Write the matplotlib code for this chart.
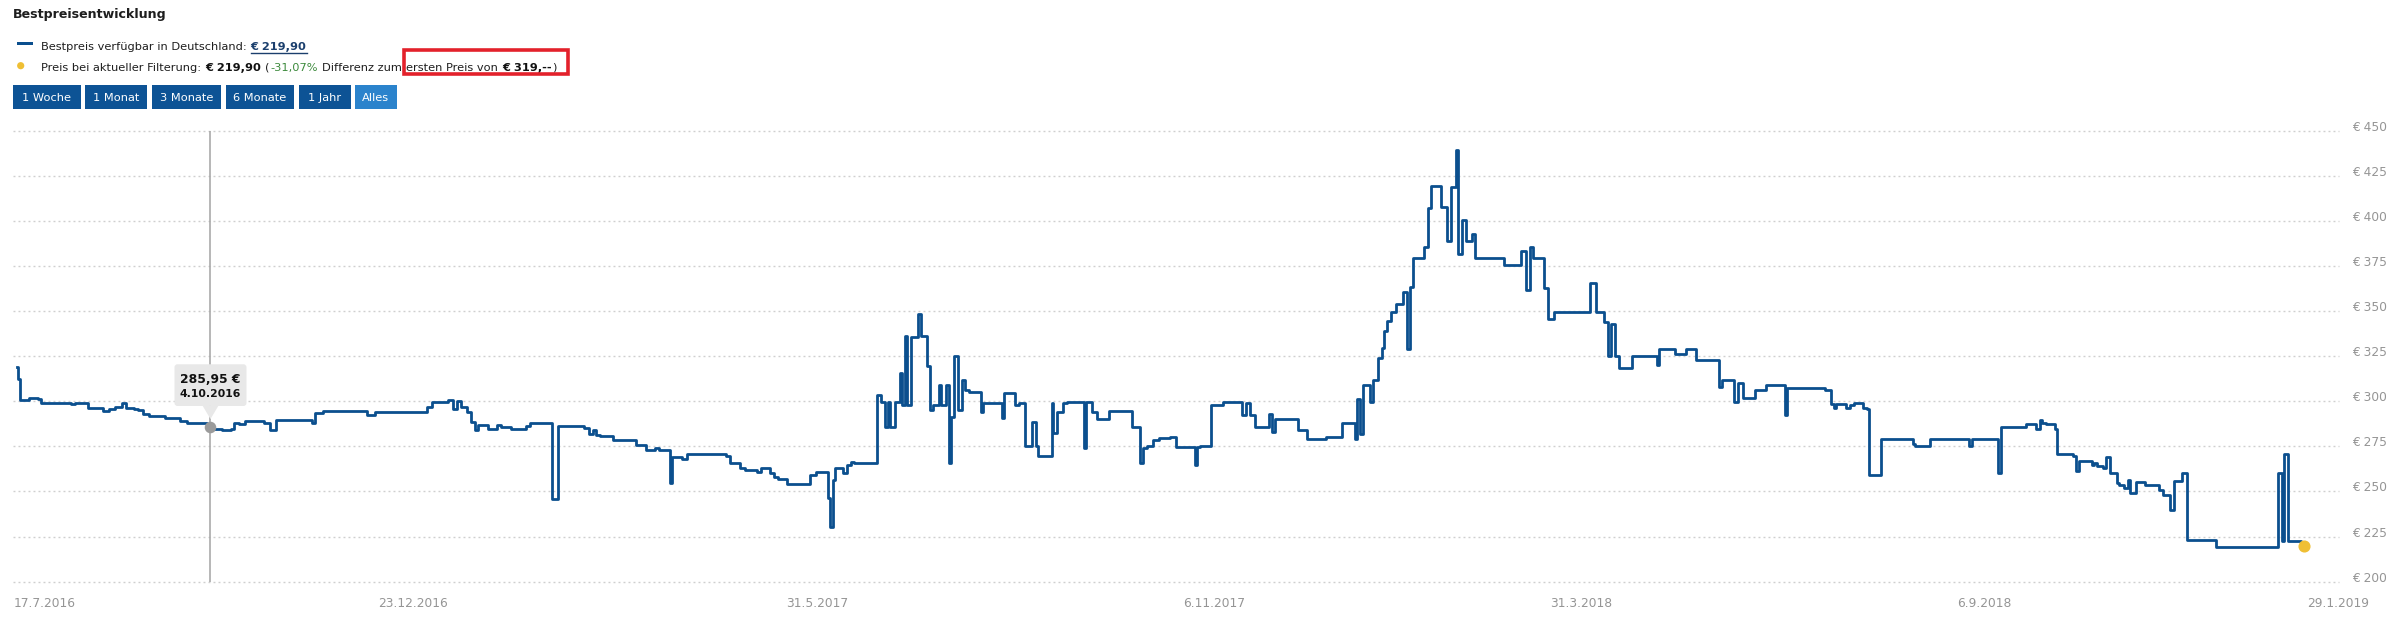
import matplotlib
matplotlib.use("Agg")
import matplotlib.pyplot as plt
from matplotlib.patches import Rectangle, Polygon, FancyBboxPatch, Circle
from matplotlib.transforms import IdentityTransform

W, H, DPI = 2402, 632, 100

# Bestpreisverlauf: Position auf der (ordinalen) Zeitachse und Preis in Euro
positions = [
    3.8, 4.6, 6.9, 15.3, 24.9, 27.5, 57.4, 61.2, 74.6, 89.9, 95.7, 101.4, 109.1, 112.9,
    120.5, 124.4, 130.1, 135.9, 151.2, 166.5, 174.1, 193.3, 197.1, 200.9, 208.6, 218.1,
    220.8, 225.8, 231.5, 250.7, 256.4, 262.9, 298.5, 301.2, 310.0, 354.0, 361.6, 413.3,
    419.0, 434.4, 440.1, 443.9, 447.8, 453.5, 457.3, 461.2, 465.0, 474.5, 484.1, 488.0,
    497.5, 512.8, 516.6, 538.8, 544.6, 570.2, 576.0, 579.8, 582.8, 586.6, 600.0, 623.0,
    632.5, 642.1, 645.9, 656.6, 658.5, 668.9, 673.9, 712.9, 716.7, 726.3, 732.0, 743.5,
    747.3, 756.9, 760.7, 764.6, 774.1, 796.3, 802.8, 814.3, 816.2, 819.3, 822.0, 829.6,
    833.4, 837.3, 841.1, 864.1, 867.9, 871.7, 874.4, 876.7, 881.3, 887.0, 888.9, 891.6,
    893.9, 897.4, 904.2, 908.1, 913.8, 916.5, 919.5, 925.3, 927.2, 933.0, 935.6, 937.9,
    940.6, 944.4, 948.3, 952.1, 955.9, 967.4, 969.3, 988.4, 990.4, 1001.8, 1005.7, 1011.4,
    1019.1, 1022.9, 1024.8, 1038.2, 1040.1, 1043.9, 1049.7, 1053.5, 1070.7, 1072.6, 1078.4,
    1084.1, 1095.6, 1118.6, 1126.2, 1130.0, 1133.9, 1139.6, 1145.4, 1156.8, 1162.6, 1181.7,
    1183.6, 1186.6, 1198.1, 1209.6, 1228.7, 1232.5, 1236.4, 1242.1, 1255.5, 1258.5, 1261.2,
    1284.2, 1293.8, 1312.9, 1328.2, 1341.6, 1343.5, 1346.6, 1349.2, 1356.9, 1359.6, 1364.6,
    1368.4, 1371.1, 1374.1, 1378.0, 1382.5, 1389.4, 1393.3, 1397.1, 1400.1, 1410.5, 1414.3,
    1418.1, 1427.7, 1433.4, 1437.3, 1442.2, 1444.9, 1448.7, 1452.6, 1459.1, 1462.1, 1490.9,
    1508.1, 1512.7, 1516.5, 1519.6, 1531.0, 1534.9, 1540.6, 1576.2, 1582.7, 1590.3, 1594.2,
    1598.0, 1601.8, 1605.7, 1619.1, 1643.9, 1645.8, 1661.2, 1672.6, 1682.2, 1705.2, 1709.0,
    1720.5, 1724.3, 1730.0, 1741.5, 1753.0, 1772.1, 1774.0, 1811.6, 1817.3, 1820.4, 1823.1,
    1832.7, 1836.5, 1840.3, 1849.9, 1853.8, 1855.7, 1867.2, 1899.8, 1901.8, 1917.1, 1955.5,
    1958.2, 1985.1, 1988.1, 2013.1, 2022.7, 2026.5, 2028.4, 2032.3, 2041.9, 2043.8, 2059.2,
    2063.0, 2066.1, 2078.3, 2080.3, 2084.1, 2089.9, 2092.9, 2096.8, 2103.3, 2106.0, 2111.0,
    2114.8, 2116.7, 2122.5, 2132.1, 2145.5, 2149.4, 2157.0, 2160.9, 2168.6, 2173.5, 2203.1,
    2264.5, 2268.4, 2271.1, 2274.9, 2287.6, 2290.6,
]
prices = [
    319.1, 312.1, 300.6, 301.7, 301.0, 299.2, 298.4, 299.2, 296.0, 294.7, 295.8, 296.9, 299.2, 296.0,
    295.5, 295.1, 292.9, 291.8, 290.5, 289.2, 287.7, 286.8, 285.95, 284.4, 284.0, 284.4,
    288.1, 287.3, 288.8, 288.1, 284.0, 289.6, 288.1, 293.2, 294.7, 292.1, 294.0, 296.9,
    299.5, 300.6, 295.8, 300.2, 296.9, 294.2, 288.6, 284.0, 286.8, 284.4, 286.8, 285.5,
    284.4, 286.4, 287.7, 245.6, 286.2, 284.9, 281.8, 284.0, 281.2, 280.9, 278.5, 275.7,
    272.9, 273.9, 272.9, 254.5, 269.2, 267.9, 270.7, 269.6, 265.5, 262.8, 261.9, 260.9,
    262.8, 260.0, 257.8, 256.7, 254.1, 259.1, 260.9, 246.2, 230.5, 256.3, 262.8, 260.0,
    264.6, 266.5, 265.9, 303.5, 299.7, 285.5, 299.3, 285.9, 299.7, 315.5, 298.0, 336.0,
    298.0, 335.7, 348.1, 336.0, 319.4, 295.1, 298.0, 309.1, 298.0, 309.1, 265.5, 291.4,
    324.8, 295.1, 311.7, 306.2, 305.2, 294.2, 298.8, 290.5, 304.7, 297.9, 299.2, 275.1,
    288.6, 275.1, 269.6, 298.8, 282.2, 294.2, 298.8, 299.7, 273.9, 299.7, 294.2,
    289.9, 294.7, 285.9, 265.5, 273.9, 275.1, 278.5, 279.4, 280.3, 274.8, 264.6,
    274.8, 275.2, 297.7, 299.6, 292.1, 299.1, 292.1, 285.5, 293.0, 282.7, 290.2,
    284.0, 278.9, 280.3, 287.8, 278.9, 301.5, 281.8, 309.0, 299.6, 311.8, 324.1,
    329.7, 339.1, 344.7, 349.4, 353.6, 360.7, 328.8, 363.5, 379.5, 385.2, 406.8,
    419.4, 407.7, 388.9, 418.6, 439.3, 381.4, 400.2, 388.9, 392.7, 379.5, 375.4,
    383.3, 361.7, 385.2, 379.5, 362.6, 345.7, 349.4, 365.4, 349.4, 343.8, 325.0,
    342.9, 325.0, 318.4, 325.0, 320.3, 329.1, 325.9, 329.1, 323.1, 308.1, 311.8,
    299.6, 310.0, 301.9, 306.2, 309.0, 292.1, 307.1, 306.2, 298.7, 296.4, 298.7,
    296.4, 298.0, 299.2, 296.4, 295.9, 259.2, 279.3, 276.1, 275.2, 279.3, 275.2,
    279.3, 260.2, 285.5, 287.4, 284.6, 289.7, 288.0, 287.4, 284.6, 270.5, 269.5,
    261.5, 267.1, 264.8, 265.8, 263.9, 263.0, 269.0, 260.2, 254.5, 253.6, 251.7,
    256.4, 248.9, 255.5, 253.6, 250.8, 247.9, 240.0, 255.8, 260.2, 222.9, 219.2,
    260.2, 222.6, 270.5, 222.6, 219.9, 219.9,
]

x_tick_pos = [0, 399.6, 803.4, 1201.0, 1567.8, 1971.2, 2325.3]
x_tick_labels = ['17.7.2016', '23.12.2016', '31.5.2017', '6.11.2017', '31.3.2018', '6.9.2018', '29.1.2019']
y_levels = [200, 225, 250, 275, 300, 325, 350, 375, 400, 425, 450]
y_tick_labels = ['€ 200', '€ 225', '€ 250', '€ 275', '€ 300', '€ 325', '€ 350', '€ 375', '€ 400', '€ 425', '€ 450']

tooltip_pos = 197.1
tooltip_price = 285.95
tooltip_value = '285,95 €'
tooltip_date = '4.10.2016'

buttons = ['1 Woche', '1 Monat', '3 Monate', '6 Monate', '1 Jahr', 'Alles']
selected_button = 'Alles'

best_price = '€ 219,90'
first_price = '€ 319,--'
difference = '-31,07%'

# Farben
LINE = '#0b4f8e'
GRID = '#cfcfcf'
AXIS_TXT = '#959595'
TEXT = '#1e1e1e'

fig = plt.figure(figsize=(W / DPI, H / DPI), dpi=DPI)
fig.patch.set_facecolor('white')

# Plotbereich (in Bildpixeln, Ursprung oben links)
left, right, top, bottom = 13.4, 2338.6, 130.5, 581.7
ax = fig.add_axes([left / W, 1 - bottom / H, (right - left) / W, (bottom - top) / H])
ax.set_xlim(0, 2325.2)
ax.set_ylim(200, 450)
for s in ax.spines.values():
    s.set_visible(False)

ax.set_yticks(y_levels, y_tick_labels)
ax.yaxis.tick_right()
ax.set_xticks(x_tick_pos, x_tick_labels)
ax.grid(axis='y', color=GRID, linestyle=(0, (1.4, 2.2)), linewidth=1.0)
for gl in ax.get_ygridlines():
    gl.set_clip_on(False)
ax.tick_params(axis='x', length=0, pad=10.8, labelsize=8.85, labelcolor=AXIS_TXT)
ax.tick_params(axis='y', length=0, pad=9.4, labelsize=8.8, labelcolor=AXIS_TXT)
for lab in ax.get_yticklabels():
    lab.set_va('baseline')
ax.get_xticklabels()[0].set_ha('left')

# Fadenkreuz, Linie, Punkte
ax.axvline(tooltip_pos, color='#a3a3a3', lw=1.1, zorder=2)
ax.plot(positions, prices, drawstyle='steps-post', color=LINE, lw=2.0,
        solid_joinstyle='round', zorder=3)
ax.plot([tooltip_pos], [tooltip_price], 'o', ms=7.3, color='#9b9b9b', zorder=4)
ax.plot([positions[-1]], [prices[-1]], 'o', ms=7.7, color='#efbf34', zorder=5, clip_on=False)

# Tooltip
px, py = ax.transData.transform((tooltip_pos, tooltip_price))
ident = IdentityTransform()
fig.add_artist(FancyBboxPatch((px - 36, py + 20.6), 72, 41.7,
                              boxstyle='round,pad=0,rounding_size=3',
                              transform=ident, facecolor='#e8e8e8', edgecolor='none', zorder=6))
fig.add_artist(Polygon([(px - 8, py + 21), (px + 8, py + 21), (px, py + 7.5)],
                       closed=True, transform=ident, facecolor='#e8e8e8', edgecolor='none', zorder=6))
fig.text(px, py + 46.6, tooltip_value, transform=ident, ha='center', va='center',
         fontsize=8.9, fontweight='bold', color='#111111', zorder=7)
fig.text(px, py + 33.0, tooltip_date, transform=ident, ha='center', va='center',
         fontsize=7.8, fontweight='bold', color='#111111', zorder=7)

# Kopfbereich
fig.text(13.3 / W, 1 - 18 / H, 'Bestpreisentwicklung', fontsize=9.1, fontweight='bold',
         color=TEXT, va='baseline', ha='left')

renderer = fig.canvas.get_renderer()


def write(x, y, parts, size):
    boxes = []
    for s, weight, color in parts:
        n = len(s) - len(s.lstrip(' '))
        x += n * 0.318 * size / 0.72
        t = fig.text(x / W, 1 - y / H, s.lstrip(' '), fontsize=size, fontweight=weight,
                     color=color, va='baseline', ha='left')
        bb = t.get_window_extent(renderer)
        boxes.append(bb)
        x = bb.x1 + 0.6
    return boxes


fig.add_artist(Rectangle((17.3 / W, 1 - 45.3 / H), 15.4 / W, 3.2 / H,
                         transform=fig.transFigure, facecolor=LINE, edgecolor='none'))
fig.add_artist(Circle((20.7, H - 65.7), 3.6, transform=ident, facecolor='#efbf34', edgecolor='none'))

b1 = write(40.7, 50, [('Bestpreis verfügbar in Deutschland:', 'normal', TEXT),
                      (' ' + best_price, 'bold', '#1b3f6d')], 8.2)
ub = b1[1]
fig.add_artist(plt.Line2D([ub.x0, ub.x1], [ub.y0 - 0.5, ub.y0 - 0.5], transform=ident,
                          color='#1b3f6d', lw=1.0))

b2 = write(40.7, 71, [('Preis bei aktueller Filterung:', 'normal', TEXT),
                      (' ' + best_price, 'bold', '#111111'),
                      (' (', 'normal', TEXT),
                      (difference, 'normal', '#3c8a3c'),
                      (' Differenz zum', 'normal', TEXT),
                      (' ersten Preis von', 'normal', TEXT),
                      (' ' + first_price, 'bold', '#111111'),
                      (')', 'normal', TEXT)], 8.2)

# rote Markierung
rx0 = b2[4].x1 + 2.5
rx1 = b2[7].x1 + 15
fig.add_artist(Rectangle((rx0, H - 74.2), rx1 - rx0 - 3.6, 24.1, transform=ident,
                         facecolor='none', edgecolor='#e3212b', lw=2.6, zorder=8))

# Zeitraum-Buttons
btn_x = [13.3, 85.0, 152.3, 225.7, 299.0, 355.0]
btn_w = [67.4, 62.3, 69.0, 68.3, 51.7, 41.7]
for label, bx, bw in zip(buttons, btn_x, btn_w):
    col = '#2b83cc' if label == selected_button else '#0d5395'
    fig.add_artist(Rectangle((bx, H - 109), bw, 24, transform=ident, facecolor=col, edgecolor='none'))
    fig.text(bx + bw / 2, H - 97.3, label, transform=ident, ha='center', va='center_baseline',
             fontsize=8.2, color='white')

fig.savefig('out.png', dpi=DPI, facecolor='white')
